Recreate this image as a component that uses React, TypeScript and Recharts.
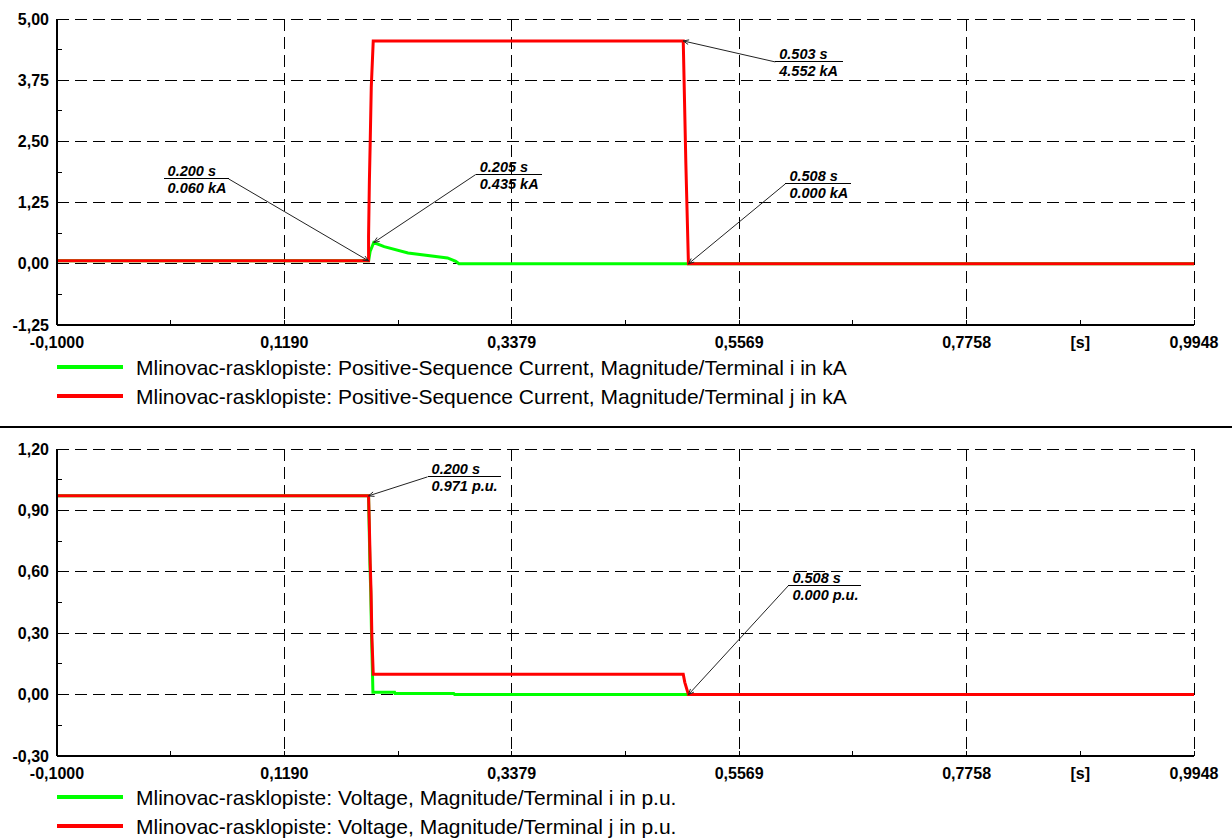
import React from 'react';
import { LineChart, Line, XAxis, YAxis, CartesianGrid, Legend, ReferenceDot } from 'recharts';

const FONT = "'Liberation Sans', Arial, Helvetica, sans-serif";

// ---- time axis (s)
const xMajorTicks = [-0.1, 0.11896, 0.33792, 0.55688, 0.77584, 0.9948];
const xMinorTicks = [0.00948, 0.22844, 0.4474, 0.66636, 0.88532];
const xUnitTick = 0.88532;
const xUnitLabel = '[s]';

// ---- current axis (kA)
const curMajorTicks = [-1.25, 0, 1.25, 2.5, 3.75, 5];
const curMinorTicks = [-0.625, 0.625, 1.875, 3.125, 4.375];

// ---- voltage axis (p.u.)
const voltMajorTicks = [-0.3, 0, 0.3, 0.6, 0.9, 1.2];
const voltMinorTicks = [-0.15, 0.15, 0.45, 0.75, 1.05];

// ---- series: current terminal i (green)
const currITime = [-0.1, 0.2, 0.2015, 0.205, 0.215, 0.238, 0.276, 0.284, 0.287, 0.9948];
const currIValue = [0.06, 0.06, 0.25, 0.435, 0.35, 0.22, 0.12, 0.05, 0, 0];
// ---- series: current terminal j (red)
const currJTime = [-0.1, 0.2, 0.2, 0.2008, 0.2016, 0.2026, 0.2045, 0.503, 0.5055, 0.508, 0.9948];
const currJValue = [0.06, 0.06, 0.55, 1.7, 2.5, 3.6, 4.552, 4.552, 2.06, 0, 0];

// ---- series: voltage terminal i (green)
const voltITime = [-0.1, 0.2, 0.2004, 0.2013, 0.2021, 0.2029, 0.2038, 0.2042, 0.225, 0.2255, 0.282, 0.283, 0.9948];
const voltIValue = [0.971, 0.971, 0.86, 0.64, 0.5, 0.28, 0.1, 0.012, 0.012, 0.005, 0.005, 0, 0];
// ---- series: voltage terminal j (red)
const voltJTime = [-0.1, 0.2, 0.2006, 0.2016, 0.2024, 0.2032, 0.2045, 0.503, 0.5045, 0.508, 0.9948];
const voltJValue = [0.971, 0.971, 0.86, 0.64, 0.5, 0.28, 0.1, 0.1, 0.06, 0, 0];

// ---- series names
const currNames = [
  'Mlinovac-rasklopiste: Positive-Sequence Current, Magnitude/Terminal i in kA',
  'Mlinovac-rasklopiste: Positive-Sequence Current, Magnitude/Terminal j in kA',
];
const voltNames = [
  'Mlinovac-rasklopiste: Voltage, Magnitude/Terminal i in p.u.',
  'Mlinovac-rasklopiste: Voltage, Magnitude/Terminal j in p.u.',
];
const seriesColors = ['#00ff00', '#ff0000'];

// ---- annotations (data points)
const curAnnTime = [0.2, 0.205, 0.503, 0.508];
const curAnnValue = [0.06, 0.435, 4.552, 0.0];
const voltAnnTime = [0.2, 0.508];
const voltAnnValue = [0.971, 0.0];

// annotation layout (pixel offsets of callout anchor, underline width, side)
const curAnnLayout = [
  { dx: -140, dy: -82, w: 65, side: 'left' },
  { dx: 102, dy: -68, w: 66, side: 'right' },
  { dx: 92, dy: 21, w: 68, side: 'right' },
  { dx: 97, dy: -80, w: 66, side: 'right' },
];
const voltAnnLayout = [
  { dx: 59, dy: -19, w: 73, side: 'right' },
  { dx: 100, dy: -109, w: 73, side: 'right' },
];

const zip = (t: number[], v: number[]) => t.map((x, i) => ({ t: x, v: v[i] }));

const fmtX = (v: number) => v.toFixed(4).replace('.', ',');
const fmtY = (v: number) => v.toFixed(2).replace('.', ',');
const near = (a: number, b: number) => Math.abs(a - b) < 1e-7;

function XTick(props: any) {
  const { x, y, payload } = props;
  const v = payload.value;
  const isMajor = xMajorTicks.some((m) => near(m, v));
  const isUnit = near(v, xUnitTick);
  return (
    <g>
      <line x1={x} y1={y} x2={x} y2={y - 5} stroke="#000" strokeWidth={1} shapeRendering="crispEdges" />
      {isMajor && (
        <text x={x} y={y + 23} textAnchor="middle" fontFamily={FONT} fontWeight="bold" fontSize={16} fill="#000">
          {fmtX(v)}
        </text>
      )}
      {isUnit && (
        <text x={x} y={y + 23} textAnchor="middle" fontFamily={FONT} fontWeight="bold" fontSize={16} fill="#000">
          {xUnitLabel}
        </text>
      )}
    </g>
  );
}

function makeYTick(majors: number[]) {
  return (props: any) => {
    const { x, y, payload } = props;
    const v = payload.value;
    const isMajor = majors.some((m) => near(m, v));
    return (
      <g>
        <line x1={x} y1={y} x2={x + 5} y2={y} stroke="#000" strokeWidth={1} shapeRendering="crispEdges" />
        {isMajor && (
          <text x={x - 8} y={y + 5.5} textAnchor="end" fontFamily={FONT} fontWeight="bold" fontSize={16} fill="#000">
            {fmtY(v)}
          </text>
        )}
      </g>
    );
  };
}

function makeCallout(layout: any, line1: string, line2: string) {
  return (props: any) => {
    const { cx, cy } = props;
    if (cx == null || cy == null) return <g />;
    const ax = cx + layout.dx;
    const ay = cy + layout.dy;
    const left = layout.side === 'left' ? ax - layout.w : ax;
    const right = left + layout.w;
    const ang = Math.atan2(ay - cy, ax - cx);
    const h = 6;
    const p1 = `${cx + h * Math.cos(ang + 0.4)},${cy + h * Math.sin(ang + 0.4)}`;
    const p2 = `${cx + h * Math.cos(ang - 0.4)},${cy + h * Math.sin(ang - 0.4)}`;
    return (
      <g>
        <line x1={cx} y1={cy} x2={ax} y2={ay} stroke="#222" strokeWidth={1} />
        <polyline points={`${p1} ${cx},${cy} ${p2}`} fill="none" stroke="#222" strokeWidth={1} />
        <line x1={left} y1={ay} x2={right} y2={ay} stroke="#000" strokeWidth={1} shapeRendering="crispEdges" />
        <text x={left + 4} y={ay - 3} fontFamily={FONT} fontWeight="bold" fontStyle="italic" fontSize={14.5} fill="#000">
          {line1}
        </text>
        <text x={left + 4} y={ay + 14} fontFamily={FONT} fontWeight="bold" fontStyle="italic" fontSize={14.5} fill="#000">
          {line2}
        </text>
      </g>
    );
  };
}

function LegendBox({ names, height, rows }: { names: string[]; height: number; rows: number[] }) {
  return (
    <svg width={1194} height={height} style={{ display: 'block' }}>
      {names.map((n, i) => (
        <g key={i}>
          <line x1={57} x2={123} y1={rows[i]} y2={rows[i]} stroke={seriesColors[i]} strokeWidth={4} />
          <text x={136} y={rows[i] + 7.5} fontFamily={FONT} fontSize={21} fill="#000">
            {n}
          </text>
        </g>
      ))}
    </svg>
  );
}

interface PanelProps {
  height: number;
  top: number;
  marginTop: number;
  legendHeight: number;
  legendRows: number[];
  yMajor: number[];
  yMinor: number[];
  seriesI: { t: number; v: number }[];
  seriesJ: { t: number; v: number }[];
  names: string[];
  annTime: number[];
  annValue: number[];
  annLayout: any[];
  unit: string;
}

function Panel(p: PanelProps) {
  const yDomain = [p.yMajor[0], p.yMajor[p.yMajor.length - 1]];
  const yTicks = [...p.yMajor, ...p.yMinor].sort((a, b) => a - b);
  const xTicks = [...xMajorTicks, ...xMinorTicks].sort((a, b) => a - b);
  return (
    <div style={{ position: 'absolute', left: 0, top: p.top }}>
      <LineChart width={1232} height={p.height} margin={{ top: p.marginTop, right: 38, bottom: 0, left: 0 }}>
        <CartesianGrid
          stroke="#000"
          strokeWidth={1}
          strokeDasharray="12 6"
          shapeRendering="crispEdges"
          horizontalValues={p.yMajor}
          verticalValues={xMajorTicks}
        />
        <XAxis
          type="number"
          dataKey="t"
          domain={[xMajorTicks[0], xMajorTicks[xMajorTicks.length - 1]]}
          ticks={xTicks}
          interval={0}
          allowDataOverflow
          height={25}
          tickSize={0}
          tickMargin={0}
          tickLine={false}
          axisLine={{ stroke: '#000', strokeWidth: 2 }}
          tick={(props: any) => <XTick {...props} />}
        />
        <YAxis
          type="number"
          dataKey="v"
          domain={yDomain}
          ticks={yTicks}
          interval={0}
          allowDataOverflow
          width={57}
          tickSize={0}
          tickMargin={0}
          tickLine={false}
          axisLine={{ stroke: '#000', strokeWidth: 2 }}
          tick={makeYTick(p.yMajor)}
        />
        <Line
          data={p.seriesI}
          dataKey="v"
          name={p.names[0]}
          type="linear"
          stroke={seriesColors[0]}
          strokeWidth={3}
          dot={false}
          activeDot={false}
          isAnimationActive={false}
        />
        <Line
          data={p.seriesJ}
          dataKey="v"
          name={p.names[1]}
          type="linear"
          stroke={seriesColors[1]}
          strokeWidth={3}
          dot={false}
          activeDot={false}
          isAnimationActive={false}
        />
        {p.annTime.map((t, i) => (
          <ReferenceDot
            key={i}
            x={t}
            y={p.annValue[i]}
            r={1}
            ifOverflow="visible"
            shape={makeCallout(p.annLayout[i], `${t.toFixed(3)} s`, `${p.annValue[i].toFixed(3)} ${p.unit}`)}
          />
        ))}
        <Legend
          verticalAlign="bottom"
          align="left"
          content={() => <LegendBox names={p.names} height={p.legendHeight} rows={p.legendRows} />}
        />
      </LineChart>
    </div>
  );
}

export default function App() {
  return (
    <div style={{ position: 'absolute', left: 0, top: 0, width: 1232, height: 838, background: '#fff', overflow: 'hidden' }}>
      <Panel
        height={420}
        top={0}
        marginTop={19}
        legendHeight={70}
        legendRows={[17, 46]}
        yMajor={curMajorTicks}
        yMinor={curMinorTicks}
        seriesI={zip(currITime, currIValue)}
        seriesJ={zip(currJTime, currJValue)}
        names={currNames}
        annTime={curAnnTime}
        annValue={curAnnValue}
        annLayout={curAnnLayout}
        unit="kA"
      />
      <div style={{ position: 'absolute', left: 0, top: 426, width: 1232, height: 2, background: '#000' }} />
      <Panel
        height={410}
        top={428}
        marginTop={21}
        legendHeight={57}
        legendRows={[16, 45]}
        yMajor={voltMajorTicks}
        yMinor={voltMinorTicks}
        seriesI={zip(voltITime, voltIValue)}
        seriesJ={zip(voltJTime, voltJValue)}
        names={voltNames}
        annTime={voltAnnTime}
        annValue={voltAnnValue}
        annLayout={voltAnnLayout}
        unit="p.u."
      />
    </div>
  );
}
